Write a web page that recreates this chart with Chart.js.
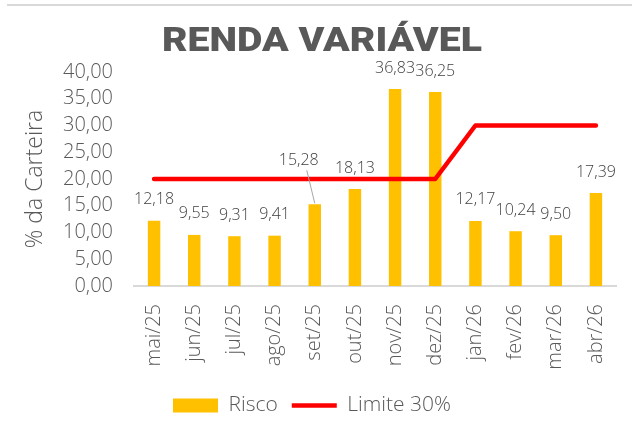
<!DOCTYPE html>
<html lang="pt-BR">

<head>
    <meta charset="UTF-8">
    <script src="https://cdn.jsdelivr.net/npm/chart.js"></script>
    <title>Renda Variável</title>
    <style>
        body {
            margin: 0;
            background: #ffffff;
        }

        .moldura {
            position: relative;
            width: 632px;
            height: 432px;
        }

        .linha_topo {
            position: absolute;
            top: 4px;
            left: 7px;
            right: 0;
            border-top: 2px solid #d9d9d9;
        }
    </style>
</head>

<body>

    <div class="moldura">
        <div class="linha_topo"></div>
        <canvas id="grafico_rv" width="632" height="432"></canvas>
    </div>

    <script>

        const meses = ['mai/25', 'jun/25', 'jul/25', 'ago/25', 'set/25', 'out/25',
            'nov/25', 'dez/25', 'jan/26', 'fev/26', 'mar/26', 'abr/26'];
        const risco = [12.18, 9.55, 9.31, 9.41, 15.28, 18.13, 36.83, 36.25, 12.17, 10.24, 9.50, 17.39];
        const limite = [20, 20, 20, 20, 20, 20, 20, 20, 30, 30, 30, 30];
        const ticksY = [0, 5, 10, 15, 20, 25, 30, 35, 40];
        const titulo = 'RENDA VARIÁVEL';

        const cinza = '#595959';
        const fonte = "'Open Sans', sans-serif";

        const formata = v => Number(v).toFixed(2).replace('.', ',');

        // título largo e pesado (esticado na horizontal)
        const tituloLargo = {
            id: 'tituloLargo',
            afterDraw(chart) {
                const c = chart.ctx;
                c.save();
                c.font = "900 33px Roboto";
                c.fillStyle = cinza;
                c.textAlign = 'center';
                c.textBaseline = 'middle';
                const w = c.measureText(titulo).width;
                const k = 320 / w;
                c.translate(322, 43);
                c.scale(k, 1);
                c.fillText(titulo, 0, 0);
                c.restore();
            }
        };

        // rótulos de dados desenhados em cima das barras
        const rotulos = {
            id: 'rotulos',
            afterDatasetsDraw(chart) {
                const c = chart.ctx;
                const meta = chart.getDatasetMeta(0);
                c.save();
                c.font = "300 16px " + fonte;
                c.fillStyle = '#404040';
                c.textAlign = 'center';
                c.textBaseline = 'middle';
                meta.data.forEach((barra, i) => {
                    let x = barra.x;
                    let y = barra.y - 21;
                    if (i === 4) {
                        // set/25 deslocado para fugir da linha, com guia
                        x = barra.x - 16;
                        y = barra.y - 44;
                        c.strokeStyle = '#a6a6a6';
                        c.lineWidth = 1;
                        c.beginPath();
                        c.moveTo(x + 8, y + 10);
                        c.lineTo(barra.x, barra.y - 1);
                        c.stroke();
                    }
                    c.fillText(formata(risco[i]), x, y);
                });
                c.restore();
            }
        };

        const ctx = document.getElementById('grafico_rv');

        const grafico = new Chart(ctx, {
            type: 'bar',
            data: {
                labels: meses,
                datasets: [{
                    label: 'Risco',
                    data: risco,
                    backgroundColor: '#ffc000',
                    barPercentage: 0.31,
                    categoryPercentage: 1,
                    order: 2
                }, {
                    type: 'line',
                    label: 'Limite 30%',
                    data: limite,
                    borderColor: '#ff0000',
                    backgroundColor: '#ff0000',
                    borderWidth: 4.5,
                    borderCapStyle: 'round',
                    borderJoinStyle: 'round',
                    pointRadius: 0,
                    tension: 0,
                    order: 1
                }]
            },
            options: {
                responsive: false,
                animation: false,
                layout: {
                    padding: { left: 8, right: 16, top: 72, bottom: 6 }
                },
                scales: {
                    x: {
                        grid: { display: false },
                        border: { color: '#d9d9d9', width: 2 },
                        ticks: {
                            color: cinza,
                            font: { family: fonte, size: 20, weight: 300 },
                            minRotation: 90,
                            maxRotation: 90,
                            padding: 10
                        },
                        afterFit: s => { s.height = 95; }
                    },
                    y: {
                        min: 0,
                        max: 40,
                        afterBuildTicks: s => { s.ticks = ticksY.map(v => ({ value: v })); },
                        grid: { display: false, drawTicks: false },
                        border: { display: false },
                        ticks: {
                            color: cinza,
                            font: { family: fonte, size: 20, weight: 300 },
                            padding: 21,
                            autoSkip: false,
                            callback: v => formata(v)
                        },
                        title: {
                            display: true,
                            text: '% da Carteira',
                            color: cinza,
                            font: { family: fonte, size: 23, weight: 300 },
                            padding: { top: 14, bottom: 0 }
                        },
                        afterFit: s => { s.width = 126; }
                    }
                },
                plugins: {
                    title: { display: false },
                    legend: {
                        position: 'bottom',
                        labels: {
                            color: cinza,
                            font: { family: fonte, size: 21, weight: 300 },
                            usePointStyle: true,
                            pointStyleWidth: 45,
                            boxHeight: 14,
                            padding: 14,
                            sort: (a, b) => a.datasetIndex - b.datasetIndex,
                            generateLabels: chart => {
                                const itens = Chart.defaults.plugins.legend.labels.generateLabels(chart);
                                itens.forEach(it => {
                                    it.pointStyle = it.datasetIndex === 0 ? 'rect' : 'line';
                                    if (it.datasetIndex === 0) it.lineWidth = 0;
                                });
                                return itens;
                            }
                        }
                    },
                    tooltip: { enabled: false }
                }
            },
            plugins: [rotulos, tituloLargo]
        });

    </script>

</body>

</html>
